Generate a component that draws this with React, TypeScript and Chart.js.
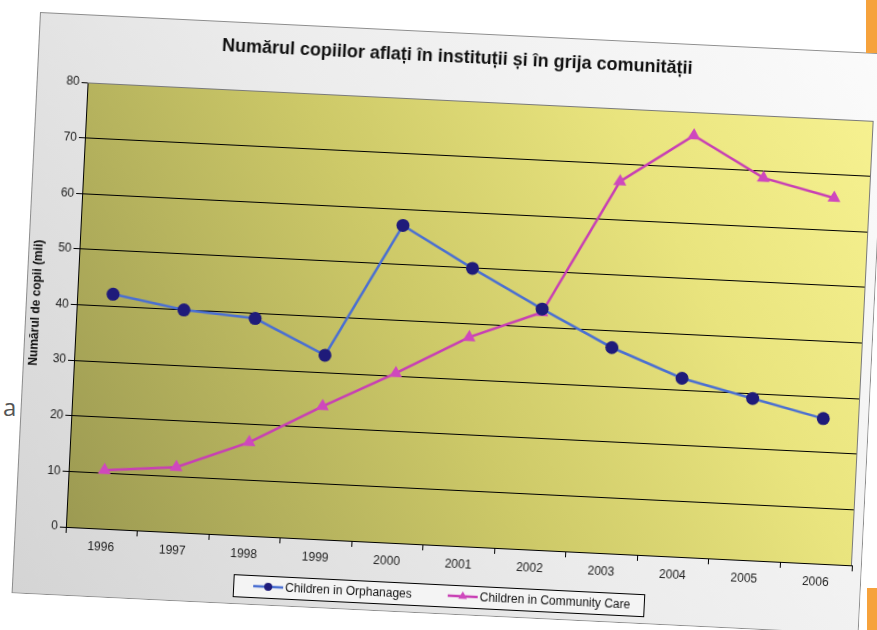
import React, { useEffect, useRef } from "react";
import { Chart, registerables } from "chart.js";

Chart.register(...registerables);

// ---- data ----
const years = ["1996", "1997", "1998", "1999", "2000", "2001", "2002", "2003", "2004", "2005", "2006"];
const orphanages = [42.2, 40.0, 39.1, 33.1, 57.1, 50.0, 43.3, 37.0, 32.1, 29.1, 26.1];
const communityCare = [10.5, 11.7, 16.8, 23.9, 30.5, 37.6, 42.7, 66.9, 75.8, 68.8, 65.8];
const seriesNames = ["Children in Orphanages", "Children in Community Care"];
const yMin = 0;
const yMax = 80;
const yStep = 10;
const chartTitle = "Numărul copiilor aflați în instituții și în grija comunității";
const yAxisTitle = "Numărul de copii (mii)";

const FONT = '"Liberation Sans", Arial, sans-serif';
const BLUE_LINE = "#4a6fd2";
const BLUE_MARK = "#1f1b7a";
const PINK_LINE = "#c83fb4";
const PINK_MARK = "#cf48bd";

const W = 848;
const H = 582;

const backgroundPlugin = {
  id: "bgPlugin",
  beforeDraw(chart: any) {
    const { ctx, chartArea } = chart;
    ctx.save();
    const g = ctx.createLinearGradient(0, H, W, 0);
    g.addColorStop(0, "#d4d4d4");
    g.addColorStop(0.5, "#ececec");
    g.addColorStop(1, "#fbfbfb");
    ctx.fillStyle = g;
    ctx.fillRect(0, 0, W, H);
    ctx.strokeStyle = "#8c8c8c";
    ctx.lineWidth = 1;
    ctx.strokeRect(0.5, 0.5, W - 1, H - 1);
    const { left, right, top, bottom } = chartArea;
    const pg = ctx.createLinearGradient(left, bottom, right, top);
    pg.addColorStop(0, "#9c9a52");
    pg.addColorStop(0.45, "#cdc968");
    pg.addColorStop(0.75, "#e9e47e");
    pg.addColorStop(1, "#f6f190");
    ctx.fillStyle = pg;
    ctx.fillRect(left, top, right - left, bottom - top);
    ctx.restore();
  },
  beforeDatasetsDraw(chart: any) {
    const { ctx, chartArea } = chart;
    const { left, right, top, bottom } = chartArea;
    ctx.save();
    ctx.strokeStyle = "#7a7a7a";
    ctx.lineWidth = 1;
    ctx.beginPath();
    ctx.moveTo(left, Math.round(top) + 0.5);
    ctx.lineTo(Math.round(right) - 0.5, Math.round(top) + 0.5);
    ctx.lineTo(Math.round(right) - 0.5, bottom);
    ctx.stroke();
    ctx.restore();
  },
};

function drawMarker(ctx: CanvasRenderingContext2D, style: string, x: number, y: number, r: number, color: string) {
  ctx.fillStyle = color;
  ctx.beginPath();
  if (style === "triangle") {
    for (let k = 0; k < 3; k++) {
      const a = (k * 2 * Math.PI) / 3;
      const px = x + Math.sin(a) * r;
      const py = y - Math.cos(a) * r;
      if (k === 0) ctx.moveTo(px, py);
      else ctx.lineTo(px, py);
    }
    ctx.closePath();
  } else {
    ctx.arc(x, y, r, 0, Math.PI * 2);
  }
  ctx.fill();
}

const legendPlugin = {
  id: "boxLegend",
  afterDraw(chart: any) {
    const ctx: CanvasRenderingContext2D = chart.ctx;
    ctx.save();
    ctx.font = `12px ${FONT}`;
    const dsets = chart.data.datasets;
    const widths = dsets.map((d: any) => ctx.measureText(d.label).width);
    const lineLen = 30;
    const gap = 2;
    const itemGap = 36;
    const padL = 20;
    const padR = 14;
    const contentW = lineLen + gap + widths[0] + itemGap + lineLen + gap + widths[1];
    const boxW = padL + contentW + padR;
    const cx = 427;
    const cy = 563;
    const boxH = 22;
    const left = Math.round(cx - boxW / 2);
    const top = Math.round(cy - boxH / 2);
    ctx.fillStyle = "#f4f4f4";
    ctx.fillRect(left, top, boxW, boxH);
    ctx.strokeStyle = "#000";
    ctx.lineWidth = 1;
    ctx.strokeRect(left + 0.5, top + 0.5, Math.round(boxW), boxH);
    let x = left + padL;
    dsets.forEach((ds: any, i: number) => {
      ctx.strokeStyle = ds.borderColor;
      ctx.lineWidth = 2.5;
      ctx.beginPath();
      ctx.moveTo(x, cy);
      ctx.lineTo(x + lineLen, cy);
      ctx.stroke();
      drawMarker(ctx, ds.pointStyle, x + lineLen / 2, cy, ds.pointStyle === "triangle" ? 5 : 4, ds.pointBackgroundColor);
      ctx.fillStyle = "#111";
      ctx.textBaseline = "middle";
      ctx.textAlign = "left";
      ctx.fillText(ds.label, x + lineLen + gap, cy + 1);
      x += lineLen + gap + widths[i] + itemGap;
    });
    ctx.restore();
  },
};

export default function App() {
  const canvasRef = useRef<HTMLCanvasElement | null>(null);

  useEffect(() => {
    if (!canvasRef.current) return;
    const chart = new Chart(canvasRef.current, {
      type: "line",
      data: {
        labels: years,
        datasets: [
          {
            label: seriesNames[0],
            data: orphanages,
            borderColor: BLUE_LINE,
            borderWidth: 2.5,
            pointStyle: "circle",
            pointRadius: 6.5,
            pointBackgroundColor: BLUE_MARK,
            pointBorderColor: BLUE_MARK,
            pointBorderWidth: 0,
            tension: 0,
          },
          {
            label: seriesNames[1],
            data: communityCare,
            borderColor: PINK_LINE,
            borderWidth: 2.5,
            pointStyle: "triangle",
            pointRadius: 7.5,
            pointBackgroundColor: PINK_MARK,
            pointBorderColor: PINK_MARK,
            pointBorderWidth: 0,
            tension: 0,
          },
        ],
      },
      options: {
        responsive: false,
        animation: false,
        devicePixelRatio: 1,
        layout: { padding: { left: 0, right: 10, top: 0, bottom: 0 } },
        plugins: {
          legend: { display: false },
          tooltip: { enabled: false },
          title: {
            display: true,
            text: chartTitle,
            color: "#111",
            font: { family: FONT, size: 18, weight: "bold", lineHeight: 1.2 },
            padding: { top: 14, bottom: 32.5 },
          },
        },
        scales: {
          x: {
            type: "category",
            offset: true,
            grid: {
              display: true,
              drawOnChartArea: false,
              drawTicks: true,
              tickLength: 6,
              offset: true,
              color: "#000",
            },
            border: { display: true, color: "#000", width: 1 },
            ticks: {
              color: "#222",
              font: { family: FONT, size: 12 },
              padding: 5,
              maxRotation: 0,
              autoSkip: false,
            },
            afterFit: (scale: any) => {
              scale.height = 69;
            },
          },
          y: {
            min: yMin,
            max: yMax,
            ticks: {
              stepSize: yStep,
              color: "#222",
              font: { family: FONT, size: 12 },
              padding: 2,
            },
            grid: {
              color: (c: any) => (c.tick && c.tick.value === yMax ? "#7a7a7a" : "#000"),
              lineWidth: 1,
              drawTicks: true,
              tickLength: 6,
              tickColor: "#000",
            },
            border: { display: true, color: "#000", width: 1 },
            title: {
              display: true,
              text: yAxisTitle,
              color: "#111",
              font: { family: FONT, size: 12, weight: "bold", lineHeight: 1.2 },
              padding: { top: 3, bottom: 0 },
            },
            afterFit: (scale: any) => {
              scale.width = 51;
            },
          },
        },
      },
      plugins: [backgroundPlugin, legendPlugin],
    } as any);
    return () => chart.destroy();
  }, []);

  return (
    <div
      style={{
        position: "fixed",
        left: 0,
        top: 0,
        width: 877,
        height: 630,
        overflow: "hidden",
        background: "#ffffff",
      }}
    >
      <div
        style={{
          position: "absolute",
          left: 3,
          top: 395,
          fontFamily: '"Open Sans", sans-serif',
          fontSize: 24,
          lineHeight: "24px",
          color: "#555",
        }}
      >
        a
      </div>
      <div
        style={{
          position: "absolute",
          left: 40,
          top: 12,
          width: W,
          height: H,
          transformOrigin: "0 0",
          transform: "rotate(2.8deg)",
        }}
      >
        <canvas ref={canvasRef} width={W} height={H} style={{ display: "block", width: W, height: H }} />
      </div>
      <div style={{ position: "absolute", left: 866, top: 0, width: 11, height: 53, background: "#f6a23c" }} />
      <div style={{ position: "absolute", left: 867, top: 588, width: 10, height: 42, background: "#f6a23c" }} />
    </div>
  );
}
